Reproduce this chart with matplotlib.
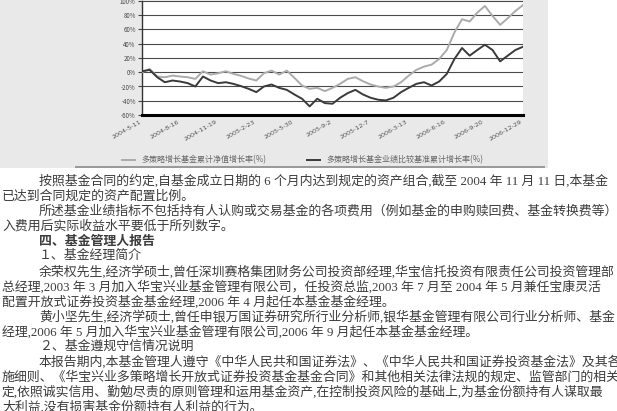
import matplotlib
matplotlib.use("Agg")
import matplotlib.pyplot as plt
from matplotlib.patches import Rectangle

plt.rcParams['font.family'] = ['Noto Sans CJK SC', 'DejaVu Sans']

# 图表数据（单位 %），等间隔采样
fund = [0, 4.7, -6.0, -7.0, -4.7, -6.0, -7.0, -9.3, 1.4, -3.3,
        -1.4, 1.4, -2.3, -5.1, -8.8, -11.6, -1.4, 2.3, -3.3, 2.3,
        -7.9, -18.6, -23.3, -21.9, -26.5, -21.9, -16.3, -9.3, -7.0, -12.6,
        -17.2, -20.0, -21.9, -20.0, -14.0, -4.7, 3.3, 7.9, 10.7, 18.6,
        31.2, 55.8, 74.4, 71.2, 83.7, 93.0, 79.1, 66.5, 75.8, 86.0, 94.2]
bench = [1.4, 3.3, -7.0, -14.0, -11.6, -13.0, -15.3, -20.0, -6.0, -11.6,
         -15.3, -14.0, -16.3, -19.5, -23.3, -27.9, -20.0, -17.2, -21.9, -24.7,
         -31.2, -37.2, -47.9, -37.2, -43.3, -44.2, -35.8, -29.3, -24.7, -31.2,
         -35.8, -38.6, -39.5, -35.8, -27.9, -21.9, -16.3, -14.0, -18.6, -13.0,
         -2.3, 18.6, 34.0, 23.3, 31.2, 38.6, 31.2, 15.3, 23.3, 31.2, 35.8]
date_labels = ['2004-5-11', '2004-8-16', '2004-11-19', '2005-2-23', '2005-5-30',
               '2005-9-2', '2005-12-7', '2006-3-13', '2006-6-16', '2006-9-20',
               '2006-12-29']
y_ticks = [100, 80, 60, 40, 20, 0, -20, -40, -60]
legend_names = ['多策略增长基金累计净值增长率(%)', '多策略增长基金业绩比较基准累计增长率(%)']

# 正文
body = [
    (True, False, '按照基金合同的约定,自基金成立日期的 6 个月内达到规定的资产组合,截至 2004 年 11 月 11 日,本基金'),
    (False, False, '已达到合同规定的资产配置比例。'),
    (True, False, '所述基金业绩指标不包括持有人认购或交易基金的各项费用（例如基金的申购赎回费、基金转换费等）,计'),
    (False, False, '入费用后实际收益水平要低于所列数字。'),
    (True, True, '四、基金管理人报告'),
    (True, False, '１、基金经理简介'),
    (True, False, '余荣权先生,经济学硕士,曾任深圳赛格集团财务公司投资部经理,华宝信托投资有限责任公司投资管理部'),
    (False, False, '总经理,2003 年 3 月加入华宝兴业基金管理有限公司，任投资总监,2003 年 7 月至 2004 年 5 月兼任宝康灵活'),
    (False, False, '配置开放式证券投资基金基金经理,2006 年 4 月起任本基金基金经理。'),
    (True, False, '黄小坚先生,经济学硕士,曾任申银万国证券研究所行业分析师,银华基金管理有限公司行业分析师、基金'),
    (False, False, '经理,2006 年 5 月加入华宝兴业基金管理有限公司,2006 年 9 月起任本基金基金经理。'),
    (True, False, '２、基金遵规守信情况说明'),
    (True, False, '本报告期内,本基金管理人遵守《中华人民共和国证券法》、《中华人民共和国证券投资基金法》及其各项实'),
    (False, False, '施细则、《华宝兴业多策略增长开放式证券投资基金基金合同》和其他相关法律法规的规定、监管部门的相关规'),
    (False, False, '定,依照诚实信用、勤勉尽责的原则管理和运用基金资产,在控制投资风险的基础上,为基金份额持有人谋取最'),
    (False, False, '大利益,没有损害基金份额持有人利益的行为。'),
]

W, H = 617, 411
fig = plt.figure(figsize=(6.17, 4.11), dpi=100, facecolor='white')

# 图表底色
fig.add_artist(Rectangle((0, 1 - 168 / H), 548 / W, 168 / H, transform=fig.transFigure,
                         facecolor='#e9e9e9', edgecolor='none', zorder=-2))
fig.add_artist(Rectangle((75 / W, 1 - 168 / H), 470 / W, 2 / H, transform=fig.transFigure,
                         facecolor='#9a9a9a', edgecolor='none', zorder=-1))

ax = fig.add_axes([142 / W, 1 - 115 / H, 381 / W, 114 / H])
ax.set_facecolor('white')
x = list(range(len(fund)))
ax.plot(x, fund, color='#ababab', lw=1.4, label=legend_names[0], zorder=3)
ax.plot(x, bench, color='#3a3a3a', lw=1.4, label=legend_names[1], zorder=3)
ax.set_xlim(0, len(fund) - 1)
ax.set_ylim(-60, 100)
ax.set_yticks(y_ticks)
ax.set_yticklabels([f'{v}%' for v in y_ticks])
ax.yaxis.grid(True, color='#4a4a4a', lw=0.8)
ax.set_axisbelow(True)
tick_pos = [i * (len(fund) - 1) / (len(date_labels) - 1) for i in range(len(date_labels))]
ax.set_xticks(tick_pos)
ax.set_xticklabels(date_labels, rotation=30, ha='right', fontsize=4.6, color='#555555',
                   family=['DejaVu Sans'])
ax.tick_params(axis='x', length=0, pad=3)
ax.tick_params(axis='y', labelsize=4.4, labelcolor='#444444', length=3, color='#444444',
               width=0.8, pad=1.5)
for s in ['top', 'right']:
    ax.spines[s].set_visible(False)
ax.spines['left'].set_color('#333333')
ax.spines['left'].set_linewidth(1.0)
ax.spines['bottom'].set_color('black')
ax.spines['bottom'].set_linewidth(2.2)

leg = ax.legend(loc='center left', bbox_to_anchor=(118 / W, 1 - 160 / H),
                bbox_transform=fig.transFigure, ncol=2, frameon=False, fontsize=5.8,
                handlelength=1.6, columnspacing=5.0, handletextpad=0.8, borderpad=0)
for t in leg.get_texts():
    t.set_color('#666666')

# 正文文字
for i, (indent, bold, line) in enumerate(body):
    yc = 181 + 15.1 * i
    fig.text((39 if indent else 2) / W, 1 - yc / H, line, fontsize=9.3, color='#3c3c3c',
             va='center', ha='left', fontweight='bold' if bold else 'normal',
             family=['Liberation Serif', 'Noto Sans CJK SC'])

fig.savefig('out.png', dpi=100, facecolor='white')
